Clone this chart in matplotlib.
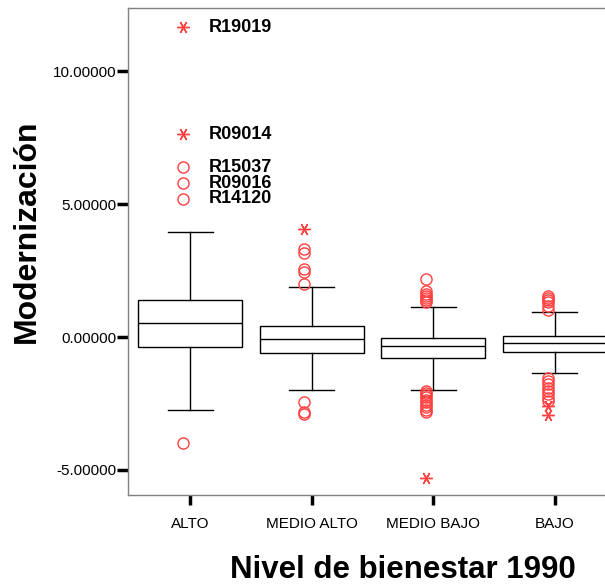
import matplotlib.pyplot as plt

plt.rcParams['font.family'] = ['Liberation Sans', 'DejaVu Sans']

categories = ['ALTO', 'MEDIO ALTO', 'MEDIO BAJO', 'BAJO']
whisker_low = [-2.74, -1.98, -1.98, -1.35]
q1 = [-0.38, -0.61, -0.79, -0.56]
median = [0.53, -0.08, -0.33, -0.21]
q3 = [1.39, 0.42, -0.03, 0.04]
whisker_high = [3.95, 1.89, 1.13, 0.94]

# outliers (circles) and extremes (stars) per group
circles = [
    [6.39, 5.79, 5.19, -3.98],
    [3.30, 3.15, 2.55, 2.45, 1.99, -2.43, -2.81, -2.91],
    [2.19, 1.74, 1.62, 1.54, 1.45, 1.39, 1.30,
     -2.02, -2.10, -2.18, -2.27, -2.36, -2.45, -2.55, -2.65, -2.75, -2.81],
    [1.53, 1.45, 1.38, 1.30, 1.15, 1.02,
     -1.53, -1.65, -1.78, -1.90, -2.02, -2.15, -2.28, -2.40],
]
stars = [
    [11.65, 7.63],
    [4.05],
    [-5.31],
    [-2.58, -2.93],
]
labels_y = [11.65, 7.63, 6.39, 5.79, 5.19]
labels_txt = ['R19019', 'R09014', 'R15037', 'R09016', 'R14120']

red = '#ff4040'

fig = plt.figure(figsize=(6.05, 5.88), dpi=100)
ax = fig.add_axes([128 / 605, (588 - 495) / 588, (617 - 128) / 605, (495 - 8) / 588])

stats = []
for i, name in enumerate(categories):
    stats.append(dict(label=name, whislo=whisker_low[i], q1=q1[i], med=median[i],
                      q3=q3[i], whishi=whisker_high[i], fliers=[]))

pos = list(range(1, len(categories) + 1))
ax.bxp(stats, positions=pos, widths=0.855, patch_artist=True, showfliers=False,
       boxprops=dict(facecolor='white', edgecolor='black', linewidth=1),
       medianprops=dict(color='black', linewidth=1),
       whiskerprops=dict(color='black', linewidth=1),
       capprops=dict(color='black', linewidth=1), capwidths=0.37)

off = -0.06
for i in range(len(categories)):
    ax.plot([pos[i] + off] * len(circles[i]), circles[i], 'o', ms=8, mfc='none',
            mec=red, mew=1, zorder=3)
    ax.plot([pos[i] + off] * len(stars[i]), stars[i], marker=(6, 2, 30), ls='none',
            ms=9, mec=red, mew=1, zorder=3)

for y, t in zip(labels_y, labels_txt):
    ax.annotate(t, (pos[0] + off, y), xytext=(19, 0), textcoords='offset points',
                va='center', ha='left', fontsize=13, fontweight='bold')

ax.set_xlim(0.49, 4.51)
ax.set_ylim(-5.94, 12.37)
ax.set_yticks([-5, 0, 5, 10])
ax.set_yticklabels(['-5.00000', '0.00000', '5.00000', '10.00000'])
ax.set_xticks(pos)
ax.set_xticklabels(categories)
ax.tick_params(axis='y', direction='out', length=8, width=2.5, labelsize=11, pad=0)
ax.tick_params(axis='x', direction='out', length=7, width=2.5, labelsize=11, pad=9)
for s in ['left', 'bottom', 'top', 'right']:
    ax.spines[s].set_color('#808080')
    ax.spines[s].set_linewidth(1)

fig.text(403 / 605, 1 - 570 / 588, 'Nivel de bienestar 1990', ha='center', va='center',
         fontsize=22.5, fontweight='bold')
fig.text(27 / 605, 1 - 231 / 588, 'Modernización', ha='center', va='center',
         rotation=90, fontsize=23, fontweight='bold')

fig.savefig('out.png', dpi=100)
